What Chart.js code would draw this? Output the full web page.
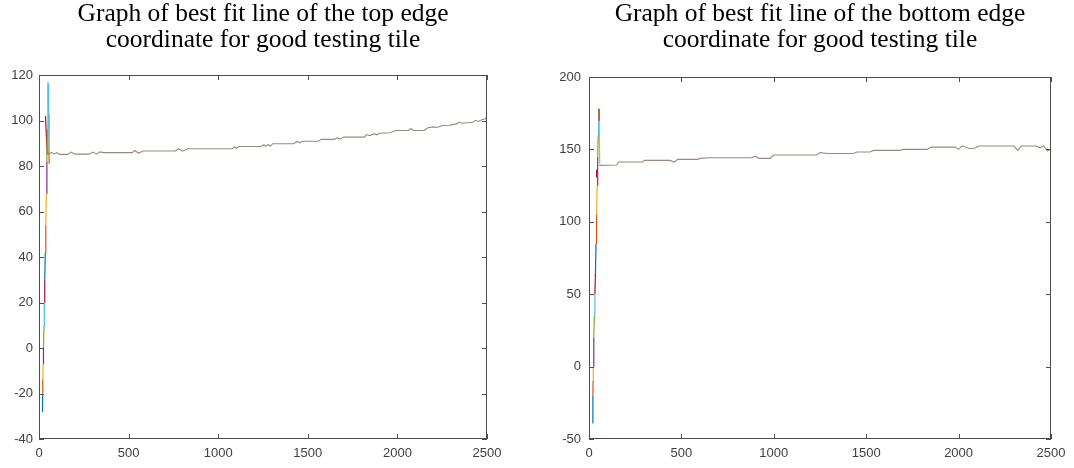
<!DOCTYPE html>
<html>
<head>
<meta charset="utf-8">
<script src="https://cdn.jsdelivr.net/npm/chart.js@4.4.0/dist/chart.umd.min.js"></script>
<style>
  html, body { margin: 0; padding: 0; background: #fff; overflow: hidden; }
  #wrap { position: relative; width: 1074px; height: 468px; }
  .box { position: absolute; top: 0; width: 537px; height: 468px; }
  .ttl {
    position: absolute; top: 0px; width: 500px;
    font-family: "Liberation Serif", "Times New Roman", serif;
    font-size: 25.5px; line-height: 26px; text-align: center; color: #000;
  }
</style>
</head>
<body>
<div id="wrap">
  <div class="box" style="left:0"><canvas id="topChart"></canvas></div>
  <div class="box" style="left:537px"><canvas id="bottomChart"></canvas></div>
  <div class="ttl" style="left:13px">Graph of best fit line of the top edge<br>coordinate for good testing tile</div>
  <div class="ttl" style="left:570px">Graph of best fit line of the bottom edge<br>coordinate for good testing tile</div>
</div>
<script>
// x ticks shared by both plots
var xTicks = [0, 500, 1000, 1500, 2000, 2500];

// top edge: main fitted line
var topX = [48, 55, 70, 85, 100, 115, 160, 180, 200, 280, 300, 320, 340, 360, 520, 535, 555, 580, 760, 780, 800, 830,
  1080, 1090, 1100, 1115, 1240, 1255, 1265, 1280, 1290, 1305, 1420, 1440, 1455, 1470, 1560, 1575, 1650, 1665, 1680, 1700,
  1815, 1830, 1845, 1870, 1885, 1900, 1960, 1990, 2060, 2075, 2090, 2150, 2170, 2200, 2220, 2250, 2290, 2330, 2345, 2360,
  2420, 2435, 2450, 2475, 2490, 2500];
var topY = [86, 85.2, 86, 85.2, 85.9, 85.1, 85.1, 86.1, 85.2, 85.2, 86.1, 85.2, 86.2, 85.9, 85.9, 86.8, 85.6, 86.6, 86.6, 87.6, 86.5, 87.6,
  87.6, 88.5, 87.8, 88.6, 88.6, 89.4, 88.7, 89.5, 88.7, 89.8, 89.8, 90.8, 90.2, 90.9, 90.9, 91.7, 91.7, 92.5, 91.8, 92.7,
  92.7, 93.8, 93.3, 94.2, 93.7, 94.4, 94.6, 95.6, 95.6, 96.4, 95.6, 95.6, 96.8, 97.2, 96.9, 97.8, 97.9, 98.5, 99.3, 98.8,
  99.2, 100.1, 99.6, 100.4, 100.8, 101.5];
// top edge: first frames, steep rise
var topRiseX = [18, 20, 21, 23, 25, 28, 30, 32, 35, 38, 41, 44, 47, 50];
var topRiseY = [-28, -21, -14, -7, 0, 10, 20, 30, 42, 54, 68, 82, 96, 117];
var topSpurX = [[36, 46], [58, 57], [51, 54], [54, 57]];
var topSpurY = [[102, 85], [103, 84], [116, 87], [90, 81]];

// bottom edge: main fitted line
var botX = [55, 150, 160, 290, 300, 440, 460, 480, 590, 600, 650, 880, 900, 920, 980, 1000, 1230, 1250, 1290, 1430,
  1450, 1520, 1540, 1680, 1700, 1830, 1850, 1980, 2000, 2020, 2060, 2090, 2110, 2300, 2320, 2340, 2420, 2440, 2460, 2480, 2500];
var botY = [139, 139.2, 141.3, 141.3, 142.4, 142.4, 141, 143.1, 143.1, 143.8, 144.2, 144.2, 145.3, 143.8, 143.8, 146.1, 146.1, 147.8, 147.2, 147.2,
  148.2, 148.2, 149.3, 149.3, 150, 150, 151.6, 151.6, 150.2, 152.5, 150.5, 151, 152.3, 152.3, 149.3, 152.3, 152.3, 151, 152.5, 149, 150];
var botRiseX = [20, 21, 22, 23, 26, 29, 32, 35, 38, 41, 44, 47, 50, 52, 54];
var botRiseY = [-39, -20, -10, 0, 20, 35, 50, 65, 85, 105, 125, 145, 160, 170, 178];
var botSpurX = [[38, 41], [54, 58]];
var botSpurY = [[131, 136], [178, 140]];

var matlab = ['#0072BD', '#D95319', '#EDB120', '#7E2F8E', '#77AC30', '#4DBEEE', '#A2142F'];

var boxPlugin = {
  id: 'matlabBox',
  afterDatasetsDraw: function (chart) {
    var a = chart.chartArea, ctx = chart.ctx;
    var xs = chart.scales.x, ys = chart.scales.y;
    ctx.save();
    ctx.strokeStyle = '#4d4d4d';
    ctx.lineWidth = 1;
    ctx.strokeRect(a.left + 0.5, a.top + 0.5, a.right - a.left - 1, a.bottom - a.top - 1);
    ctx.beginPath();
    xs.ticks.forEach(function (t) {
      var px = Math.round(xs.getPixelForValue(t.value)) + 0.5;
      ctx.moveTo(px, a.bottom); ctx.lineTo(px, a.bottom - 5);
      ctx.moveTo(px, a.top); ctx.lineTo(px, a.top + 5);
    });
    ys.ticks.forEach(function (t) {
      var py = Math.round(ys.getPixelForValue(t.value)) + 0.5;
      ctx.moveTo(a.left, py); ctx.lineTo(a.left + 5, py);
      ctx.moveTo(a.right, py); ctx.lineTo(a.right - 5, py);
    });
    ctx.stroke();
    ctx.restore();
  }
};

function pts(xs, ys) {
  return xs.map(function (x, i) { return { x: x, y: ys[i] }; });
}

function buildSets(mx, my, rx, ry, sx, sy) {
  var sets = [{ data: pts(mx, my), borderColor: '#98897d', borderWidth: 1.1 }];
  for (var i = 0; i < rx.length - 1; i++) {
    sets.push({ data: pts([rx[i], rx[i + 1]], [ry[i], ry[i + 1]]), borderColor: matlab[i % 7], borderWidth: 1.2 });
  }
  sx.forEach(function (s, j) {
    sets.push({ data: pts(s, sy[j]), borderColor: matlab[(j * 3 + 6) % 7], borderWidth: 1.2 });
  });
  sets.forEach(function (d) { d.showLine = true; d.pointRadius = 0; d.fill = false; });
  return sets;
}

function makeChart(id, sets, yMin, yMax, yStep, pad, yw, ypad) {
  var tickFont = { family: 'Liberation Sans, Arial, sans-serif', size: 13 };
  return new Chart(document.getElementById(id).getContext('2d'), {
    type: 'scatter',
    data: { datasets: sets },
    options: {
      responsive: true,
      maintainAspectRatio: false,
      animation: false,
      layout: { padding: pad },
      plugins: { legend: { display: false }, tooltip: { enabled: false } },
      scales: {
        x: {
          type: 'linear', min: 0, max: 2500,
          afterBuildTicks: function (s) { s.ticks = xTicks.map(function (v) { return { value: v }; }); },
          afterFit: function (s) { s.height = 29; },
          grid: { display: false, drawTicks: false }, border: { display: false },
          ticks: { font: tickFont, color: '#404040', padding: 7, maxRotation: 0,
            callback: function (v) { return String(v); } }
        },
        y: {
          min: yMin, max: yMax,
          ticks: { stepSize: yStep, font: tickFont, color: '#404040', padding: ypad,
            callback: function (v) { return String(v); } },
          afterFit: function (s) { s.width = yw; },
          grid: { display: false, drawTicks: false }, border: { display: false }
        }
      }
    },
    plugins: [boxPlugin]
  });
}

makeChart('topChart', buildSets(topX, topY, topRiseX, topRiseY, topSpurX, topSpurY),
  -40, 120, 20, { left: 0, right: 50, top: 75, bottom: 0 }, 39, 6);
makeChart('bottomChart', buildSets(botX, botY, botRiseX, botRiseY, botSpurX, botSpurY),
  -50, 200, 50, { left: 12, right: 23, top: 77, bottom: 0 }, 40, 8);
</script>
</body>
</html>
